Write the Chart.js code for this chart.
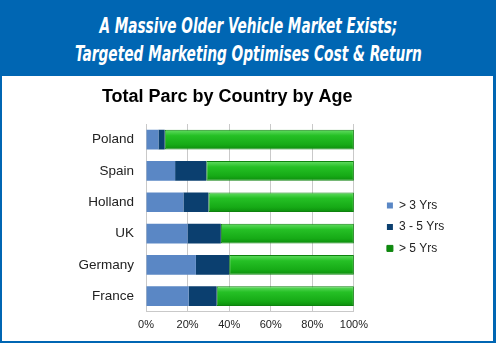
<!DOCTYPE html>
<html>
<head>
<meta charset="utf-8">
<script src="https://cdn.jsdelivr.net/npm/chart.js@4.4.1/dist/chart.umd.min.js"></script>
<style>
  html, body { margin: 0; padding: 0; background: #fff; }
  #frame { position: relative; width: 496px; height: 343px; background: #0066B3; overflow: hidden; }
  #head { position: absolute; left: 0; top: 12px; width: 496px; color: #fff;
    font-family: "Liberation Sans Narrow", "DejaVu Sans Condensed", "Liberation Sans", sans-serif;
    font-weight: 700; font-style: italic; font-size: 21px; line-height: 28px; text-align: center; }
  #head span { display: inline-block; white-space: nowrap; transform-origin: 50% 50%; }
  #panel { position: absolute; left: 2px; top: 76px; width: 491px; height: 265px; background: #fff; }
</style>
</head>
<body>
<div id="frame">
  <div id="head">
    <span data-w="298">A Massive Older Vehicle Market Exists;</span><br>
    <span data-w="347">Targeted Marketing Optimises Cost &amp; Return</span>
  </div>
  <div id="panel"><canvas id="parcChart" width="491" height="265"></canvas></div>
</div>
<script>
// ======================================================
// data (percent of parc)
// ======================================================
const countries = ['Poland', 'Spain', 'Holland', 'UK', 'Germany', 'France'];
const under3 = [6, 14, 18, 20, 24, 20.5];
const from3to5 = [3, 15, 12, 16, 16, 13.5];
const over5 = [91, 71, 70, 64, 60, 66];
const seriesNames = ['> 3 Yrs', '3 - 5 Yrs', '> 5 Yrs'];
const xTicks = [0, 20, 40, 60, 80, 100];

// squeeze the banner lines to the width of the original lettering
document.querySelectorAll('#head span').forEach(el => {
  const w = el.getBoundingClientRect().width;
  el.style.transform = `scaleX(${el.dataset.w / w})`;
});

const font = '"Liberation Sans", Arial, sans-serif';

const greenFill = (ctx) => {
  if (ctx.type !== 'data' || !ctx.chart.chartArea) return '#1FB81F';
  const y = ctx.chart.scales.y.getPixelForValue(ctx.dataIndex);
  const g = ctx.chart.ctx.createLinearGradient(0, y - 10, 0, y + 10);
  g.addColorStop(0, '#66DE66');
  g.addColorStop(0.3, '#25C025');
  g.addColorStop(0.75, '#16AA16');
  g.addColorStop(1, '#0C8C0C');
  return g;
};

const parcChart = new Chart(document.getElementById('parcChart'), {
  type: 'bar',
  data: {
    labels: countries,
    datasets: [
      { label: seriesNames[0], data: under3, backgroundColor: '#5A87C5', borderWidth: 0 },
      { label: seriesNames[1], data: from3to5, backgroundColor: '#0B3F6F', borderWidth: 0 },
      { label: seriesNames[2], data: over5, backgroundColor: greenFill, borderColor: '#0E820E', borderWidth: 1, borderSkipped: false }
    ]
  },
  options: {
    indexAxis: 'y',
    responsive: false,
    animation: false,
    barPercentage: 0.63,
    categoryPercentage: 1,
    layout: { padding: { left: 0, top: 0, right: 40.5, bottom: 2 } },
    scales: {
      x: {
        stacked: true, min: 0, max: 100,
        afterBuildTicks: (s) => { s.ticks = xTicks.map(v => ({ value: v })); },
        ticks: { callback: (v) => v + '%', color: '#222', padding: 7, font: { family: font, size: 11 } },
        grid: { color: '#C9C9C9', drawTicks: false },
        border: { color: '#C9C9C9' }
      },
      y: {
        stacked: true,
        afterFit: (s) => { s.width = 144; },
        ticks: { color: '#222', padding: 12, font: { family: font, size: 13.5 } },
        grid: { display: false, drawTicks: false },
        border: { display: false }
      },
      gap: {
        type: 'linear', axis: 'y', position: 'right', display: true,
        afterFit: (s) => { s.width = 23.5; },
        ticks: { display: false },
        grid: { display: false, drawTicks: false },
        border: { display: false }
      }
    },
    plugins: {
      title: {
        display: true, text: 'Total Parc by Country by Age', color: '#000',
        font: { family: font, size: 18, weight: 'bold' },
        padding: { top: 10, bottom: 16.4 }
      },
      legend: {
        position: 'right', fullSize: false,
        title: { display: true, text: '', font: { size: 10 }, padding: { top: 3, bottom: 3 } },
        labels: { boxWidth: 6, boxHeight: 6, padding: 9.5, color: '#222', font: { family: font, size: 12 } }
      },
      tooltip: { enabled: false }
    }
  }
});
</script>
</body>
</html>
